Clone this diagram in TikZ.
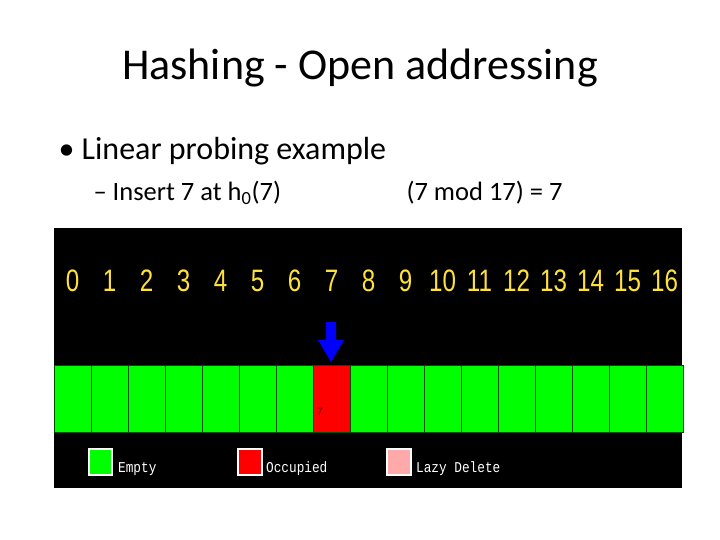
\documentclass[tikz,border=0pt]{standalone}
\usepackage{fontspec}
\setmainfont{Carlito}
\newfontfamily\monof{Liberation Mono}
\newfontfamily\numf{Liberation Sans}
\definecolor{cgreen}{RGB}{0,255,0}
\definecolor{cred}{RGB}{255,0,0}
\definecolor{cpink}{RGB}{255,170,170}
\definecolor{cyel}{RGB}{255,225,60}
\begin{document}
\begin{tikzpicture}[x=1pt,y=-1pt,
  cell/.style={draw=black!70!green,line width=1pt},
  idx/.style={text=cyel,font=\numf\fontsize{31}{31}\selectfont,inner sep=0,xscale=0.78},
  legbox/.style={draw=white,line width=1.5pt},
  legtxt/.style={text=white,anchor=west,font=\monof\fontsize{15}{15}\selectfont,inner sep=0,xscale=0.85}]
\useasboundingbox (0,0) rectangle (720,540);
\node (title) at (360,68) {\fontsize{44}{44}\selectfont Hashing - Open addressing};
\node[anchor=west] (b1) at (55,151) {\fontsize{32}{32}\selectfont •\ Linear probing example};
\node[anchor=west] (b2) at (90,193) {\fontsize{26.5}{26.5}\selectfont – Insert 7 at h\textsubscript{0}(7)};
\node[anchor=west] (b3) at (403,193) {\fontsize{26.5}{26.5}\selectfont (7 mod 17) = 7};
\fill[black] (54,228) rectangle (682,488);
\foreach \i in {0,...,16}{
  \pgfmathsetmacro{\xa}{54+\i*37}
  \ifnum\i=7
    \path[cell,fill=cred] (\xa,365) rectangle ++(37,67);
  \else
    \path[cell,fill=cgreen] (\xa,365) rectangle ++(37,67);
  \fi
  \node[idx] (n\i) at (\xa+18.5,281) {\i};
}
\node[text=red!50!black,font=\monof\fontsize{11}{11}\selectfont,inner sep=0] (v7) at (320,412) {7};
\fill[blue] (326,322) rectangle (336,340) (318,340) -- (344,340) -- (331,362) -- cycle;
\path[legbox,fill=cgreen] (89,449) rectangle (112,475);
\node[legtxt] (l1) at (118,469) {Empty};
\path[legbox,fill=cred] (238,449) rectangle (262,475);
\node[legtxt] (l2) at (266,469) {Occupied};
\path[legbox,fill=cpink] (387,449) rectangle (411,475);
\node[legtxt] (l3) at (416,469) {Lazy Delete};
\end{tikzpicture}
\end{document}
